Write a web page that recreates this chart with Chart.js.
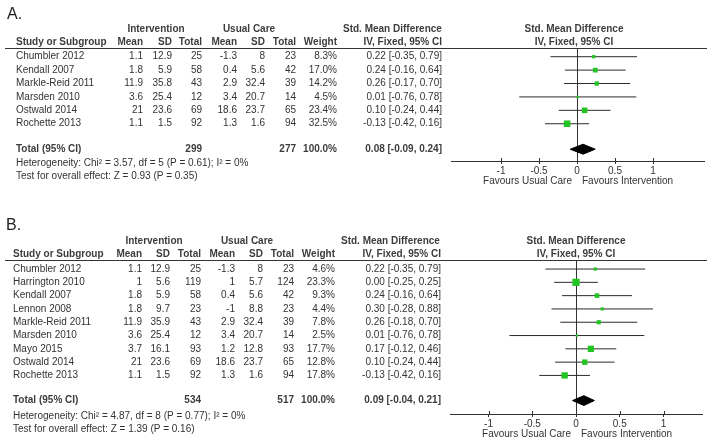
<!DOCTYPE html>
<html><head><meta charset="utf-8">
<script src="https://cdn.jsdelivr.net/npm/chart.js@4"></script>
<style>html,body{margin:0;padding:0;background:#fff;width:714px;height:445px;overflow:hidden}
canvas{position:absolute;left:0}</style></head>
<body>
<canvas id="cA" width="714" height="215" style="top:0"></canvas>
<canvas id="cB" width="714" height="230" style="top:215px"></canvas>
<script>
// ---------- Panel A data ----------
const studiesA = ['Chumbler 2012','Kendall 2007','Markle-Reid 2011','Marsden 2010','Ostwald 2014','Rochette 2013'];
const intMeanA = [1.1, 1.8, 11.9, 3.6, 21, 1.1];
const intSdA = [12.9, 5.9, 35.8, 25.4, 23.6, 1.5];
const intTotalA = [25, 58, 43, 12, 69, 92];
const ucMeanA = [-1.3, 0.4, 2.9, 3.4, 18.6, 1.3];
const ucSdA = [8, 5.6, 32.4, 20.7, 23.7, 1.6];
const ucTotalA = [23, 42, 39, 14, 65, 94];
const weightA = [8.3, 17.0, 14.2, 4.5, 23.4, 32.5];
const smdA = [0.22, 0.24, 0.26, 0.01, 0.10, -0.13];
const loA = [-0.35, -0.16, -0.17, -0.76, -0.24, -0.42];
const hiA = [0.79, 0.64, 0.70, 0.78, 0.44, 0.16];
const totalsA = {intN: 299, ucN: 277, weight: 100.0, smd: 0.08, lo: -0.09, hi: 0.24};
const hetA = 'Heterogeneity: Chi\u00B2 = 3.57, df = 5 (P = 0.61); I\u00B2 = 0%';
const testA = 'Test for overall effect: Z = 0.93 (P = 0.35)';

// ---------- Panel B data ----------
const studiesB = ['Chumbler 2012','Harrington 2010','Kendall 2007','Lennon 2008','Markle-Reid 2011','Marsden 2010','Mayo 2015','Ostwald 2014','Rochette 2013'];
const intMeanB = [1.1, 1, 1.8, 1.8, 11.9, 3.6, 3.7, 21, 1.1];
const intSdB = [12.9, 5.6, 5.9, 9.7, 35.9, 25.4, 16.1, 23.6, 1.5];
const intTotalB = [25, 119, 58, 23, 43, 12, 93, 69, 92];
const ucMeanB = [-1.3, 1, 0.4, -1, 2.9, 3.4, 1.2, 18.6, 1.3];
const ucSdB = [8, 5.7, 5.6, 8.8, 32.4, 20.7, 12.8, 23.7, 1.6];
const ucTotalB = [23, 124, 42, 23, 39, 14, 93, 65, 94];
const weightB = [4.6, 23.3, 9.3, 4.4, 7.8, 2.5, 17.7, 12.8, 17.8];
const smdB = [0.22, 0.00, 0.24, 0.30, 0.26, 0.01, 0.17, 0.10, -0.13];
const loB = [-0.35, -0.25, -0.16, -0.28, -0.18, -0.76, -0.12, -0.24, -0.42];
const hiB = [0.79, 0.25, 0.64, 0.88, 0.70, 0.78, 0.46, 0.44, 0.16];
const totalsB = {intN: 534, ucN: 517, weight: 100.0, smd: 0.09, lo: -0.04, hi: 0.21};
const hetB = 'Heterogeneity: Chi\u00B2 = 4.87, df = 8 (P = 0.77); I\u00B2 = 0%';
const testB = 'Test for overall effect: Z = 1.39 (P = 0.16)';

// ---------- Axis ticks ----------
const tickValues = [-1, -0.5, 0, 0.5, 1];
const tickLabels = ['-1', '-0.5', '0', '0.5', '1'];

const FONT = '"Liberation Sans", Arial, sans-serif';
const TXT = '#333';

// ---------- Layout (styles / positions) ----------
const layoutA = {
  label: 'A.', labelX: 7,
  left: 451, right: 704, top: 48, height: 215, axisY: 161,
  xmin: -1.658, xmax: 1.671, ymin: -0.65, ymax: 7.78,
  rows: {label: -3.15, group: -2.05, head: -1.05, total: 6.9, het: 7.95, test: 8.95},
  cols: {name: 16, intMean: 143, intSd: 172, intTot: 202, ucMean: 237, ucSd: 265, ucTot: 296, weight: 337, ci: 442,
         intHdr: 156, ucHdr: 249, smdHdrL: 343, plotHdr: 574},
  lineX0: 5, lineX1: 707, sq: 1.15, diamondH: 0.37
};
const layoutB = {
  label: 'B.', labelX: 6,
  left: 450, right: 702, top: 45, height: 230, axisY: 199,
  xmin: -1.44, xmax: 1.44, ymin: -0.68, ymax: 10.9,
  rows: {label: -3.3, group: -2.1, head: -1.13, total: 9.89, het: 11.05, test: 12.03},
  cols: {name: 13, intMean: 142, intSd: 170, intTot: 201, ucMean: 235, ucSd: 263, ucTot: 294, weight: 335, ci: 441,
         intHdr: 154, ucHdr: 247, smdHdrL: 341, plotHdr: 576},
  lineX0: 5, lineX1: 707, sq: 1.5, diamondH: 0.37
};

const fmtW = v => v.toFixed(1) + '%';
const fmtCI = (e, l, h) => e.toFixed(2) + ' [' + l.toFixed(2) + ', ' + h.toFixed(2) + ']';

function makePanel(id, P, L) {
  const n = P.studies.length;
  const datasets = [];
  for (let i = 0; i < n; i++) {
    datasets.push({type: 'line', data: [{x: P.lo[i], y: i}, {x: P.hi[i], y: i}],
      borderColor: '#2b2b2b', borderWidth: 1, pointRadius: 0, fill: false, tension: 0, order: 3});
  }
  datasets.push({type: 'scatter', data: P.smd.map((v, i) => ({x: v, y: i})),
    pointStyle: 'rect', pointRadius: P.weight.map(w => L.sq * Math.sqrt(w) / Math.SQRT2),
    backgroundColor: '#22c422', borderColor: '#22c422', borderWidth: 0, order: 1});
  const t = L.rows.total, h = L.diamondH, T = P.totals;
  datasets.push({type: 'line', data: [{x: T.lo, y: t}, {x: T.smd, y: t - h}, {x: T.hi, y: t}, {x: T.smd, y: t + h}, {x: T.lo, y: t}],
    borderColor: '#000', backgroundColor: '#000', borderWidth: 1, pointRadius: 0, fill: 'shape', tension: 0, order: 0});

  const tablePlugin = {
    id: 'table' + id,
    afterDraw(chart) {
      const ctx = chart.ctx, ys = chart.scales.y, xs = chart.scales.x, ca = chart.chartArea;
      const Y = r => ys.getPixelForValue(r);
      const C = L.cols;
      ctx.save();
      ctx.textBaseline = 'middle';
      ctx.fillStyle = TXT;
      const txt = (s, x, r, align, bold, size) => {
        ctx.font = (bold ? 'bold ' : '') + (size || 10) + 'px ' + FONT;
        ctx.textAlign = align;
        ctx.fillText(String(s), x, Y(r));
      };
      // panel label
      ctx.fillStyle = '#222';
      txt(L.label, L.labelX, L.rows.label, 'left', false, 16);
      ctx.fillStyle = '#3c3c3c';
      // group headers
      txt('Intervention', C.intHdr, L.rows.group, 'center', true);
      txt('Usual Care', C.ucHdr, L.rows.group, 'center', true);
      txt('Std. Mean Difference', C.smdHdrL, L.rows.group, 'left', true);
      txt('Std. Mean Difference', C.plotHdr, L.rows.group, 'center', true);
      // column headers
      txt('Study or Subgroup', C.name, L.rows.head, 'left', true);
      txt('Mean', C.intMean, L.rows.head, 'right', true);
      txt('SD', C.intSd, L.rows.head, 'right', true);
      txt('Total', C.intTot, L.rows.head, 'right', true);
      txt('Mean', C.ucMean, L.rows.head, 'right', true);
      txt('SD', C.ucSd, L.rows.head, 'right', true);
      txt('Total', C.ucTot, L.rows.head, 'right', true);
      txt('Weight', C.weight, L.rows.head, 'right', true);
      txt('IV, Fixed, 95% CI', C.ci, L.rows.head, 'right', true);
      txt('IV, Fixed, 95% CI', C.plotHdr, L.rows.head, 'center', true);
      // study rows
      ctx.fillStyle = TXT;
      for (let i = 0; i < n; i++) {
        txt(P.studies[i], C.name, i, 'left');
        txt(P.intMean[i], C.intMean, i, 'right');
        txt(P.intSd[i], C.intSd, i, 'right');
        txt(P.intTotal[i], C.intTot, i, 'right');
        txt(P.ucMean[i], C.ucMean, i, 'right');
        txt(P.ucSd[i], C.ucSd, i, 'right');
        txt(P.ucTotal[i], C.ucTot, i, 'right');
        txt(fmtW(P.weight[i]), C.weight, i, 'right');
        txt(fmtCI(P.smd[i], P.lo[i], P.hi[i]), C.ci, i, 'right');
      }
      // totals
      ctx.fillStyle = '#3c3c3c';
      txt('Total (95% CI)', C.name, t, 'left', true);
      txt(T.intN, C.intTot, t, 'right', true);
      txt(T.ucN, C.ucTot, t, 'right', true);
      txt(fmtW(T.weight), C.weight, t, 'right', true);
      txt(fmtCI(T.smd, T.lo, T.hi), C.ci, t, 'right', true);
      ctx.fillStyle = TXT;
      txt(P.het, C.name, L.rows.het, 'left');
      txt(P.test, C.name, L.rows.test, 'left');
      // header rule
      ctx.strokeStyle = '#333'; ctx.lineWidth = 1;
      ctx.beginPath();
      const hy = Math.round(ca.top) + 0.5;
      ctx.moveTo(L.lineX0, hy); ctx.lineTo(L.lineX1, hy);
      // upward tick halves
      tickValues.forEach(v => {
        const x = Math.round(xs.getPixelForValue(v)) + 0.5;
        ctx.moveTo(x, ca.bottom - 3); ctx.lineTo(x, ca.bottom);
      });
      ctx.stroke();
      // favours labels
      const x0 = xs.getPixelForValue(0);
      ctx.font = '10px ' + FONT;
      ctx.fillStyle = TXT;
      ctx.textAlign = 'right';
      ctx.fillText('Favours Usual Care', x0 - 5, ca.bottom + 20);
      ctx.textAlign = 'left';
      ctx.fillText('Favours Intervention', x0 + 5, ca.bottom + 20);
      ctx.restore();
    }
  };

  return new Chart(document.getElementById(id), {
    type: 'scatter',
    data: {datasets},
    options: {
      responsive: false, animation: false, devicePixelRatio: 1, events: [],
      layout: {padding: {left: L.left, right: 714 - L.right, top: L.top, bottom: 0}},
      plugins: {legend: {display: false}, tooltip: {enabled: false}},
      scales: {
        x: {
          type: 'linear', min: L.xmin, max: L.xmax, position: 'bottom',
          afterBuildTicks: s => { s.ticks = tickValues.map(v => ({value: v})); },
          afterFit: s => { s.height = L.height - L.axisY; },
          ticks: {font: {size: 10, family: FONT}, color: TXT, padding: 1, autoSkip: false, maxRotation: 0,
                  callback: (v, i) => tickLabels[i]},
          grid: {color: c => (c.tick && c.tick.value === 0) ? '#333' : 'rgba(0,0,0,0)', lineWidth: 1,
                 drawTicks: true, tickLength: 3, tickColor: '#333', drawOnChartArea: true},
          border: {display: true, color: '#333', width: 1}
        },
        y: {type: 'linear', reverse: true, min: L.ymin, max: L.ymax, display: false}
      }
    },
    plugins: [tablePlugin]
  });
}

makePanel('cA', {studies: studiesA, intMean: intMeanA, intSd: intSdA, intTotal: intTotalA, ucMean: ucMeanA, ucSd: ucSdA,
  ucTotal: ucTotalA, weight: weightA, smd: smdA, lo: loA, hi: hiA, totals: totalsA, het: hetA, test: testA}, layoutA);
makePanel('cB', {studies: studiesB, intMean: intMeanB, intSd: intSdB, intTotal: intTotalB, ucMean: ucMeanB, ucSd: ucSdB,
  ucTotal: ucTotalB, weight: weightB, smd: smdB, lo: loB, hi: hiB, totals: totalsB, het: hetB, test: testB}, layoutB);
</script>
</body></html>
